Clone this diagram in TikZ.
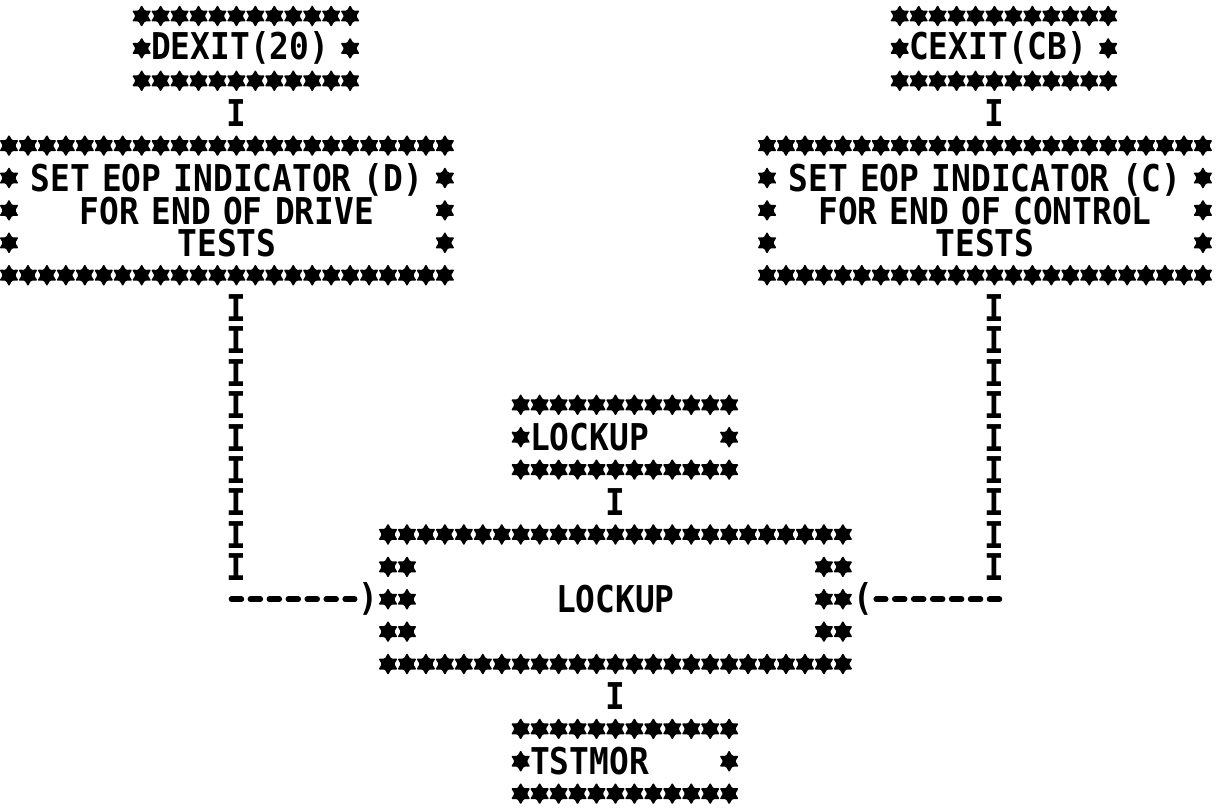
\documentclass[tikz,border=0pt]{standalone}
\usepackage{fontspec}
\usepackage{tikz}
\newfontfamily\prt[FakeStretch=0.89]{DejaVu Sans Mono}
\usetikzlibrary{positioning,shapes.geometric,decorations.markings}
\setlength{\lineskiplimit}{-20pt}

% one printer cell is 0.379cm wide and 0.648cm high
\newcommand\starbox[4]{%
	\foreach \c in {#1,...,#2} {\node[ast] (s-\c-#3) at (\c,#3) {}; \node[ast] (s-\c-#4) at (\c,#4) {};}
	\pgfmathtruncatemacro\ra{#3+1}\pgfmathtruncatemacro\rb{#4-1}
	\foreach \r in {\ra,...,\rb} {\node[ast] (s-#1-\r) at (#1,\r) {}; \node[ast] (s-#2-\r) at (#2,\r) {};}}

\begin{document}
\begin{tikzpicture}[x=0.379cm, y=-0.648cm,
	ast/.style={star, star points=6, star point ratio=1.75, minimum size=0.44cm, inner sep=0pt, fill=black, rounded corners=0.6pt},
	prbox/.style={inner sep=0pt, font=\prt\bfseries\fontsize{21}{18.4}\selectfont},
	ichar/.style={inner sep=0pt, font=\prt\bfseries\fontsize{21}{18.4}\selectfont},
	ibar/.style={decorate, decoration={markings, mark=between positions 0.324cm and 0.95 step 0.648cm with {\node[ichar]{I};}}},
	dashrun/.style={line width=0.11cm, line cap=round, dash pattern=on 0.2cm off 0.179cm}]
	\path[fill=white, use as bounding box] (-0.475,-0.494) rectangle (63.69,24.54);

	\node[prbox, minimum width=4.548cm, minimum height=1.944cm, text width=3.79cm, align=left] (dexit) at (12.5,1) {DEXIT(20)};
	\node[prbox, minimum width=4.548cm, minimum height=1.944cm, text width=3.79cm, align=left] (cexit) at (52.5,1) {CEXIT(CB)};
	\node[prbox, minimum width=9.096cm, minimum height=3.24cm, text width=8.5cm, align=center] (setd) at (11.5,6) {SET EOP INDICATOR (D)\\FOR END OF DRIVE\\TESTS};
	\node[prbox, minimum width=9.096cm, minimum height=3.24cm, text width=8.5cm, align=center] (setc) at (51.5,6) {SET EOP INDICATOR (C)\\FOR END OF CONTROL\\TESTS};
	\node[prbox, minimum width=4.548cm, minimum height=1.944cm, text width=3.79cm, align=left] (locks) at (32.5,13) {LOCKUP};
	\node[prbox, minimum width=9.475cm, minimum height=3.24cm] (lockbig) at (32,18) {LOCKUP};
	\node[prbox, minimum width=4.548cm, minimum height=1.944cm, text width=3.79cm, align=left] (tstmor) at (32.5,23) {TSTMOR};

	\starbox{7}{18}{0}{2}
	\starbox{47}{58}{0}{2}
	\starbox{0}{23}{4}{8}
	\starbox{40}{63}{4}{8}
	\starbox{27}{38}{12}{14}
	\starbox{20}{44}{16}{20}
	\foreach \r in {17,18,19} {\node[ast] (s-21-\r) at (21,\r) {}; \node[ast] (s-43-\r) at (43,\r) {};}
	\starbox{27}{38}{22}{24}

	\path (dexit.south) -- node[ichar] (i-d) {I} (setd.north);
	\path (cexit.south) -- node[ichar] (i-c) {I} (setc.north);
	\path (locks.south -| lockbig.north) -- node[ichar] (i-l) {I} (lockbig.north);
	\path (lockbig.south) -- node[ichar] (i-t) {I} (lockbig.south |- tstmor.north);

	\coordinate (dtop) at ([xshift=0.19cm]setd.south);
	\coordinate (dturn) at (dtop |- lockbig.west);
	\path[ibar] (dtop) -- (dturn);
	\draw[dashrun] ([xshift=-0.1cm]dturn) -- ([xshift=-0.47cm]lockbig.west);
	\node[ichar, left=0pt of lockbig] (din) {)};

	\coordinate (ctop) at ([xshift=0.19cm]setc.south);
	\coordinate (cturn) at (ctop |- lockbig.east);
	\path[ibar] (ctop) -- (cturn);
	\draw[dashrun] ([xshift=0.1cm]cturn) -- ([xshift=0.47cm]lockbig.east);
	\node[ichar, right=0pt of lockbig] (cin) {(};
\end{tikzpicture}
\end{document}
